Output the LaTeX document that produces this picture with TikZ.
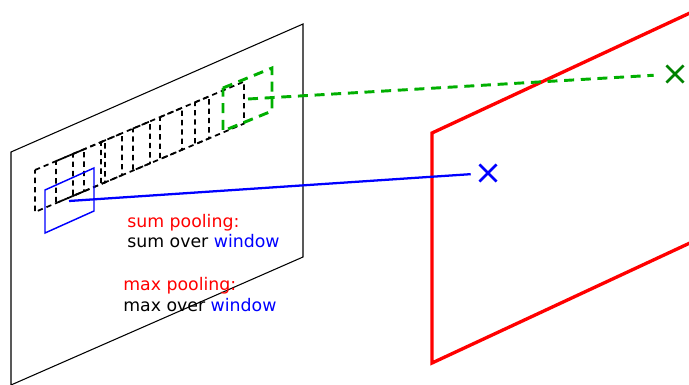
\documentclass[tikz,border=0pt]{standalone}
\usepackage{fontspec}
\setmainfont{DejaVu Sans}
\usepackage{tikz}
\usetikzlibrary{shapes.misc}
\definecolor{winblue}{RGB}{0,0,255}
\definecolor{poolred}{RGB}{255,0,0}
\definecolor{linkgreen}{RGB}{0,175,0}
\definecolor{markgreen}{RGB}{0,130,0}

\begin{document}
\begin{tikzpicture}[x=0.75pt, y=-0.75pt,
    win/.style={black, line width=1.3pt, dash pattern=on 4pt off 3pt},
    greenwin/.style={linkgreen, line width=2.2pt, dash pattern=on 7.5pt off 5pt},
    xmark/.style={cross out, draw, line width=1.9pt, minimum size=11pt, inner sep=0pt},
    lbl/.style={anchor=base west, inner sep=0pt, font=\fontsize{13}{15}\selectfont}]

  \useasboundingbox (0,0) rectangle (689,385);
  \clip (0,0) rectangle (689,385);

  % Input plane
  \draw[black, line width=0.8pt] (11,152) -- (303,24) -- (303,257) -- (11,385) -- cycle;

  % Sliding windows along one row
  \foreach \s in {35,56,73,101,133,160,195}
    \draw[win] (\s,{170-0.423*(\s-35)}) -- ++(49,-20.7) -- ++(0,42) -- ++(-49,20.7) -- cycle;

  % Next window (green)
  \draw[greenwin] (223,88) -- (272,68) -- (272,111) -- (223,131) -- cycle;
  \coordinate (greenc) at (248,99);

  % Current window (blue)
  \draw[winblue, line width=1.1pt] (45,190) -- (94,168) -- (94,211) -- (45,233) -- cycle;
  \coordinate (bluec) at (69,201);

  % Output plane
  \draw[poolred, line width=2.5pt, line join=miter] (720,-1) -- (432,133) -- (432,363) -- (720,229);

  % Output units
  \node[xmark, winblue] (bluex) at (488,173) {};
  \node[xmark, markgreen] (greenx) at (675,74) {};

  % Connections
  \draw[winblue, line width=1.7pt, shorten >=13pt] (bluec) -- (bluex.center);
  \draw[greenwin, shorten >=16pt] (greenc) -- (greenx.center);

  % Labels
  \node[lbl, poolred] (sumhead) at (127,227) {sum pooling:};
  \node[lbl] (sumtext) at (127,247) {sum over \textcolor{winblue}{window}};
  \node[lbl, poolred] (maxhead) at (123,290) {max pooling:};
  \node[lbl] (maxtext) at (123,311) {max over \textcolor{winblue}{window}};

\end{tikzpicture}
\end{document}
